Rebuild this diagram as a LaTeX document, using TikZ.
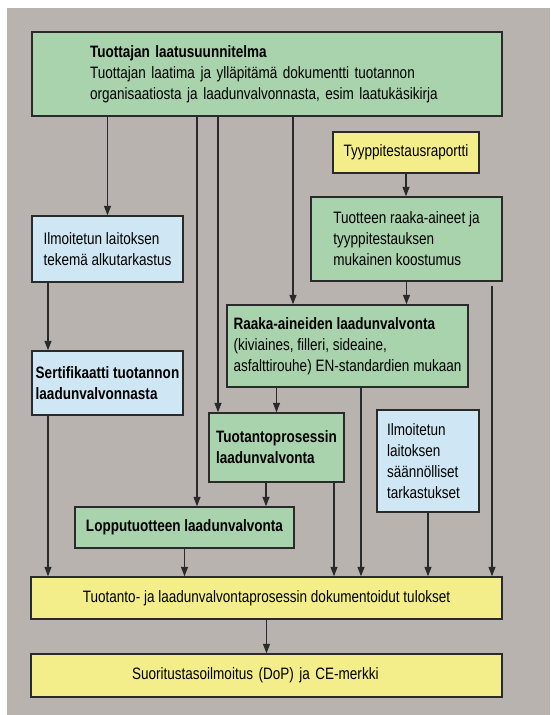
\documentclass[tikz,border=0pt]{standalone}
\usepackage{fontspec}
\setmainfont{Liberation Sans}[FakeStretch=0.82]
\usetikzlibrary{arrows.meta}

\definecolor{bggray}{HTML}{B8B3AF}
\definecolor{boxline}{HTML}{2A2A2A}
\definecolor{planGreen}{HTML}{A9D3AC}
\definecolor{docYellow}{HTML}{F4EE8A}
\definecolor{auditBlue}{HTML}{CFE6F4}

\tikzset{
	box/.style={draw=boxline, line width=1.4pt, inner sep=0pt, align=left,
		font=\fontsize{16.5}{21}\selectfont},
	greenbox/.style={box, fill=planGreen},
	yellowbox/.style={box, fill=docYellow},
	bluebox/.style={box, fill=auditBlue},
	textpad/.style={execute at begin node={\leftskip=#1\relax}},
	arr/.style={draw=boxline, line width=1.2pt, -{Triangle[length=9.5pt,width=7pt]}},
}

\begin{document}
\begin{tikzpicture}[x=1pt,y=-1pt]
		\useasboundingbox (0,0) rectangle (550,715);
		\fill[bggray] (7,8) rectangle (550,715);
		
		% boxes
		\node[greenbox, text width=470pt, textpad=58pt, minimum height=84pt] (plan) at (267,74)
			{\textbf{Tuottajan laatusuunnitelma}\\
			Tuottajan laatima ja ylläpitämä dokumentti tuotannon\\
			organisaatiosta ja laadunvalvonnasta, esim laatukäsikirja};
		\node[yellowbox, minimum width=146pt, minimum height=41pt] (tyyppi) at (406,152.5)
			{Tyyppitestausraportti};
		\node[greenbox, minimum width=191pt, minimum height=84pt] (koostumus) at (406.5,239)
			{Tuotteen raaka-aineet ja\\ tyyppitestauksen\\ mukainen koostumus};
		\node[bluebox, minimum width=151pt, minimum height=66pt] (alku) at (107.5,249)
			{Ilmoitetun laitoksen\\ tekemä alkutarkastus};
		\node[bluebox, minimum width=151pt, minimum height=64pt] (serti) at (107.5,383)
			{\textbf{Sertifikaatti tuotannon}\\ \textbf{laadunvalvonnasta}};
		\node[greenbox, minimum width=241pt, minimum height=82pt] (raaka) at (347.5,346)
			{\textbf{Raaka-aineiden laadunvalvonta}\\ (kiviaines, filleri, sideaine,\\
			asfalttirouhe) EN-standardien mukaan};
		\node[greenbox, minimum width=135pt, minimum height=69pt] (prosessi) at (276.5,447.5)
			{\textbf{Tuotantoprosessin}\\ \textbf{laadunvalvonta}};
		\node[bluebox, text width=102pt, textpad=10pt, minimum height=102pt] (tarkastus) at (428,461)
			{Ilmoitetun\\ laitoksen\\ säännölliset\\ tarkastukset};
		\node[greenbox, minimum width=219pt, minimum height=41pt] (loppu) at (184.5,527.5)
			{\textbf{Lopputuotteen laadunvalvonta}};
		\node[yellowbox, minimum width=471pt, minimum height=42pt] (tulokset) at (266.5,598)
			{Tuotanto- ja laadunvalvontaprosessin dokumentoidut tulokset};
		\node[yellowbox, text width=471pt, textpad=101pt, minimum height=43pt] (dop) at (266.5,675.5)
			{Suoritustasoilmoitus (DoP) ja CE-merkki};
		
		% connectors
		\draw[arr] (alku.north |- plan.south) -- (alku.north);
		\draw[arr] ([xshift=12.5pt]loppu.north |- plan.south) -- ([xshift=12.5pt]loppu.north);
		\draw[arr] ([xshift=-58.5pt]prosessi.north |- plan.south) -- ([xshift=-58.5pt]prosessi.north);
		\draw[arr] ([xshift=-54.5pt]raaka.north |- plan.south) -- ([xshift=-54.5pt]raaka.north);
		\draw[arr] (tyyppi.south) -- (tyyppi.south |- koostumus.north);
		\draw[arr] (koostumus.south) -- (koostumus.south |- raaka.north);
		\draw[arr] ([xshift=85.5pt,yshift=-4pt]koostumus.south) -- ([xshift=85.5pt]koostumus.south |- tulokset.north);
		\draw[arr] ([xshift=-59.5pt]alku.south) -- ([xshift=-59.5pt]alku.south |- serti.north);
		\draw[arr] ([xshift=-59.5pt]serti.south) -- ([xshift=-59.5pt]serti.south |- tulokset.north);
		\draw[arr] (prosessi.north |- raaka.south) -- (prosessi.north);
		\draw[arr] ([xshift=13.5pt]raaka.south) -- ([xshift=13.5pt]raaka.south |- tulokset.north);
		\draw[arr] ([xshift=-10.5pt]prosessi.south) -- ([xshift=-10.5pt]prosessi.south |- loppu.north);
		\draw[arr] ([xshift=57.5pt]prosessi.south) -- ([xshift=57.5pt]prosessi.south |- tulokset.north);
		\draw[arr] (tarkastus.south) -- (tarkastus.south |- tulokset.north);
		\draw[arr] (loppu.south) -- (loppu.south |- tulokset.north);
		\draw[arr] (tulokset.south) -- (dop.north);
	\end{tikzpicture}
\end{document}
